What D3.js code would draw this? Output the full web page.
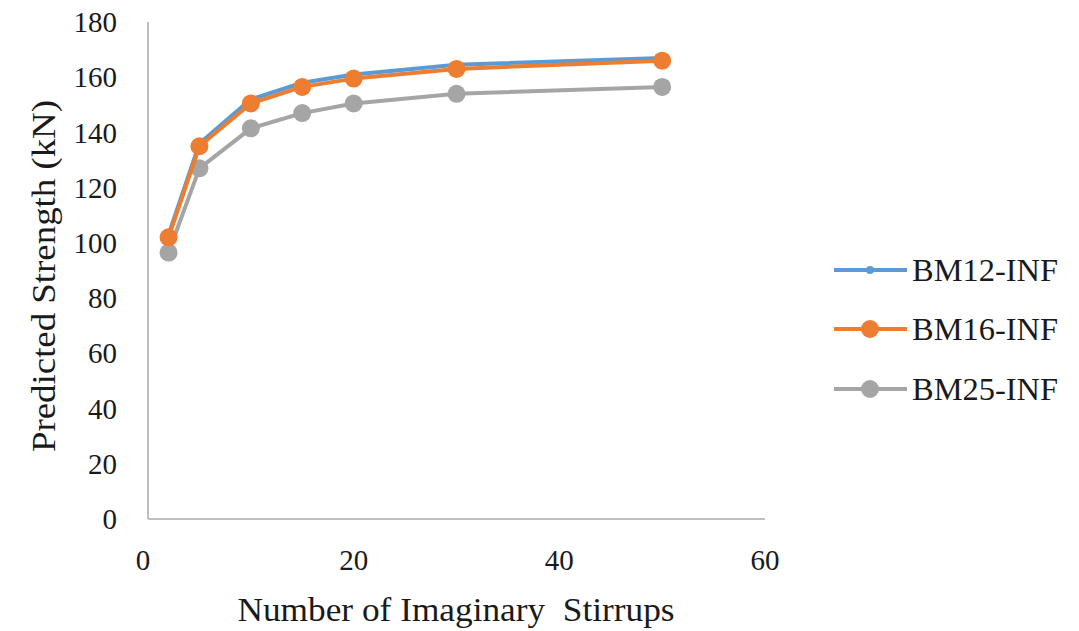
<!DOCTYPE html>
<meta charset="utf-8">
<style>
  body { margin: 0; background: #fff; }
  svg text { font-family: "Liberation Serif", Tinos, "Times New Roman", Times, "DejaVu Serif", serif; }
</style>
<body>
<svg id="chart" width="1079" height="631"></svg>
<script src="https://cdnjs.cloudflare.com/ajax/libs/d3/7.8.5/d3.min.js"></script>
<script>
  // stirrup counts on the x axis
  var stirrups = [2, 5, 10, 15, 20, 30, 50];

  var seriesNames = ["BM12-INF", "BM16-INF", "BM25-INF"];
  var bm12 = [103, 136, 152, 158, 161, 164.5, 167];
  var bm16 = [102, 135, 150.5, 156.5, 159.5, 163, 166];
  var bm25 = [96.5, 127, 141.5, 147, 150.5, 154, 156.5];

  var xTicks = [0, 20, 40, 60];
  var yTicks = [0, 20, 40, 60, 80, 100, 120, 140, 160, 180];

  var colors = ["#5b9bd5", "#ed7d31", "#a5a5a5"];
  var markerR = [4, 9, 9];
  var ink = "#1a1a1a";

  var svg = d3.select("#chart");

  var x = d3.scaleLinear().domain([0, 60]).range([148, 765]);
  var y = d3.scaleLinear().domain([0, 180]).range([519, 22]);

  // axes lines
  svg.append("line")
    .attr("x1", x(0)).attr("x2", x(0))
    .attr("y1", y(180)).attr("y2", y(0))
    .attr("stroke", "#bfbfbf").attr("stroke-width", 2);
  svg.append("line")
    .attr("x1", x(0)).attr("x2", x(60))
    .attr("y1", y(0)).attr("y2", y(0))
    .attr("stroke", "#bfbfbf").attr("stroke-width", 2);

  // tick labels
  svg.selectAll(".ytick").data(yTicks).join("text")
    .attr("x", 117).attr("y", d => y(d))
    .attr("dy", "0.35em")
    .attr("text-anchor", "end")
    .attr("fill", ink)
    .style("font-size", "29px")
    .text(d => d);

  svg.selectAll(".xtick").data(xTicks).join("text")
    .attr("x", d => x(d) - (d === 0 ? 5 : 0)).attr("y", 560)
    .attr("dy", "0.35em")
    .attr("text-anchor", "middle")
    .attr("fill", ink)
    .style("font-size", "29px")
    .text(d => d);

  // axis titles
  svg.append("text")
    .attr("transform", "translate(43,276) rotate(-90)")
    .attr("text-anchor", "middle")
    .attr("dy", "0.35em")
    .attr("fill", ink)
    .attr("textLength", 352)
    .attr("lengthAdjust", "spacingAndGlyphs")
    .style("font-size", "33px")
    .text("Predicted Strength (kN)");

  svg.append("text")
    .attr("x", 456).attr("y", 609)
    .attr("dy", "0.35em")
    .attr("text-anchor", "middle")
    .attr("fill", ink)
    .attr("textLength", 437)
    .attr("lengthAdjust", "spacingAndGlyphs")
    .attr("xml:space", "preserve")
    .style("font-size", "33px")
    .text("Number of Imaginary  Stirrups");

  var allSeries = [bm12, bm16, bm25];
  var line = d3.line().x((d, i) => x(stirrups[i])).y(d => y(d));

  // grey first, then blue under orange
  [2, 0, 1].forEach(function (s) {
    var vals = allSeries[s];
    svg.append("path")
      .attr("d", line(vals))
      .attr("fill", "none")
      .attr("stroke", colors[s])
      .attr("stroke-width", 4)
      .attr("stroke-linejoin", "round");
    svg.selectAll(".pt" + s).data(vals).join("circle")
      .attr("cx", (d, i) => x(stirrups[i]))
      .attr("cy", d => y(d))
      .attr("r", markerR[s])
      .attr("fill", colors[s]);
  });

  // legend
  var legendY = [270, 329, 389];
  seriesNames.forEach(function (name, i) {
    var g = svg.append("g").attr("transform", "translate(834," + legendY[i] + ")");
    g.append("line")
      .attr("x1", 0).attr("x2", 73)
      .attr("stroke", colors[i]).attr("stroke-width", 4);
    g.append("circle").attr("cx", 36).attr("r", markerR[i]).attr("fill", colors[i]);
    g.append("text")
      .attr("x", 78).attr("dy", "0.35em")
      .attr("fill", ink)
      .attr("textLength", 146)
      .attr("lengthAdjust", "spacingAndGlyphs")
      .style("font-size", "31px")
      .text(name);
  });
</script>
</body>
